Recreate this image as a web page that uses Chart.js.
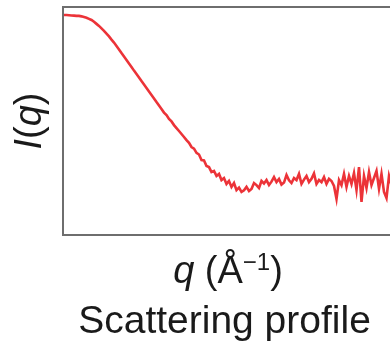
<!DOCTYPE html>
<html>
<head>
<meta charset="utf-8">
<script src="https://cdn.jsdelivr.net/npm/chart.js@4/dist/chart.umd.min.js"></script>
<style>
html,body{margin:0;padding:0;background:#fff;overflow:hidden;width:390px;height:341px;}
canvas{display:block;}
</style>
</head>
<body>
<canvas id="c" width="400" height="341"></canvas>
<script>
// scattering vector q (Å^-1)
const q = [
0.0000,0.0025,0.0050,0.0075,0.0100,0.0125,0.0150,0.0175,0.0200,0.0225,
0.0250,0.0275,0.0300,0.0325,0.0350,0.0375,0.0400,0.0425,0.0450,0.0475,
0.0500,0.0525,0.0550,0.0575,0.0600,0.0625,0.0650,0.0675,0.0700,0.0725,
0.0750,0.0775,0.0800,0.0825,0.0850,0.0875,0.0900,0.0925,0.0950,0.0975,
0.1000,0.1025,0.1050,0.1075,0.1100,0.1125,0.1150,0.1175,0.1200,0.1225,
0.1250,0.1275,0.1300,0.1325,0.1350,0.1375,0.1400,0.1425,0.1450,0.1475,
0.1500,0.1525,0.1550,0.1575,0.1600,0.1625,0.1650,0.1675,0.1700,0.1725,
0.1750,0.1775,0.1800,0.1825,0.1850,0.1875,0.1900,0.1925,0.1950,0.1975,
0.2000,0.2025,0.2050,0.2075,0.2100,0.2125,0.2150,0.2175,0.2200,0.2225,
0.2250,0.2275,0.2300,0.2325,0.2350,0.2375,0.2400,0.2425,0.2450,0.2475,
0.2500,0.2525,0.2550,0.2575,0.2600,0.2625,0.2650,0.2675,0.2700,0.2725,
0.2750,0.2775,0.2800,0.2825,0.2850,0.2875,0.2900,0.2925,0.2950,0.2975,
0.3000,0.3025,0.3050,0.3075,0.3100,0.3125,0.3150,0.3175,0.3200,0.3225,
0.3250,0.3275,0.3300
];
// scattered intensity I(q), arbitrary units
const intensity = [
96.5,96.5,96.4,96.3,96.2,96.1,96.1,95.9,95.6,95.3,
94.8,94.3,93.5,92.6,91.7,90.6,89.5,88.3,87.1,85.7,
84.4,82.9,81.4,79.8,78.3,76.8,75.2,73.7,72.1,70.6,
69.1,67.5,66.0,64.5,62.9,61.4,59.9,58.3,56.8,55.3,
53.7,52.6,50.9,49.8,48.2,46.9,45.6,44.3,43.0,41.6,
40.4,38.6,37.9,36.0,35.3,32.9,32.7,30.3,29.8,27.6,
28.1,25.9,26.8,24.1,25.0,22.4,23.7,21.1,22.8,19.7,
20.8,18.9,19.6,21.1,19.3,20.2,22.8,21.9,20.6,23.7,
22.6,24.1,21.9,23.4,25.4,23.2,24.6,22.1,23.0,26.3,
24.0,22.8,25.0,24.1,26.8,22.4,24.3,25.9,23.2,24.6,
27.0,22.4,24.1,23.2,25.4,22.4,24.6,23.7,21.5,15.8,
24.1,21.9,26.8,21.1,25.9,22.4,27.2,19.7,29.8,14.5,
25.9,20.6,27.6,21.9,25.0,28.1,20.2,26.8,18.9,16.2,
25.9,21.9,24.1
];
const xTitle = ['q', ' (Å', '−1', ')'];
const yTitle = ['I', '(', 'q', ')'];
const chartTitle = 'Scattering profile';

const FONT = '"Liberation Sans", Arial, Helvetica, sans-serif';

const textPlugin = {
  id: 'frameAndText',
  afterDraw(chart) {
    const ctx = chart.ctx;
    const a = chart.chartArea;
    ctx.save();
    // frame
    ctx.strokeStyle = '#6e6e6e';
    ctx.lineWidth = 2;
    ctx.strokeRect(a.left - 1, a.top, a.right - a.left + 1, a.bottom - a.top);
    ctx.fillStyle = '#1a1a1a';
    ctx.textBaseline = 'alphabetic';
    ctx.textAlign = 'left';
    // x axis title: q (Å^-1)
    const big = '38px ' + FONT, bigIt = 'italic 38px ' + FONT, sup = '24px ' + FONT;
    const parts = [
      {t: xTitle[0], f: bigIt, dy: 0},
      {t: xTitle[1], f: big, dy: 0},
      {t: xTitle[2], f: sup, dy: -13},
      {t: xTitle[3], f: big, dy: 0}
    ];
    let w = 0;
    parts.forEach(p => { ctx.font = p.f; p.w = ctx.measureText(p.t).width; w += p.w; });
    let x = (a.left + a.right) / 2 - w / 2 - 1;
    const base = a.bottom + 48;
    parts.forEach(p => { ctx.font = p.f; ctx.fillText(p.t, x, base + p.dy); x += p.w; });
    // chart title
    ctx.font = '39px ' + FONT;
    const tw = ctx.measureText(chartTitle).width;
    ctx.fillText(chartTitle, 224.5 - tw / 2, 333);
    // y axis title: I(q)
    const yparts = [
      {t: yTitle[0], f: bigIt},
      {t: yTitle[1], f: big},
      {t: yTitle[2], f: bigIt},
      {t: yTitle[3], f: big}
    ];
    let yw = 0;
    yparts.forEach(p => { ctx.font = p.f; p.w = ctx.measureText(p.t).width; yw += p.w; });
    ctx.translate(41, (a.top + a.bottom) / 2);
    ctx.rotate(-Math.PI / 2);
    let yx = -yw / 2;
    yparts.forEach(p => { ctx.font = p.f; ctx.fillText(p.t, yx, 0); yx += p.w; });
    ctx.restore();
  }
};

new Chart(document.getElementById('c'), {
  type: 'line',
  data: {
    datasets: [{
      data: q.map((v, i) => ({x: v, y: intensity[i]})),
      borderColor: '#ec3338',
      borderWidth: 2.6,
      pointRadius: 0,
      tension: 0,
      fill: false
    }]
  },
  options: {
    responsive: false,
    devicePixelRatio: 1,
    animation: false,
    layout: {padding: {left: 64, top: 7, right: 6, bottom: 106}},
    plugins: {legend: {display: false}, tooltip: {enabled: false}, title: {display: false}},
    scales: {
      x: {type: 'linear', display: false, min: 0, max: 0.33},
      y: {type: 'linear', display: false, min: 0, max: 100}
    }
  },
  plugins: [textPlugin]
});
</script>
</body>
</html>
